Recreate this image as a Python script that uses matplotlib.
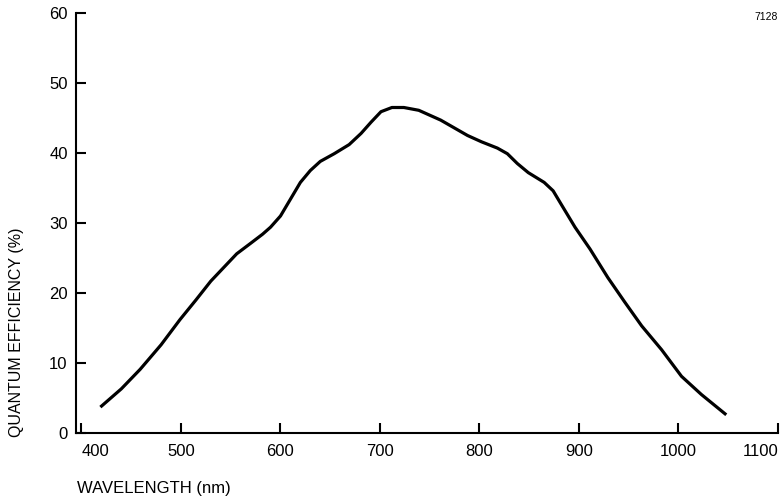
import numpy as np
import matplotlib.pyplot as plt

plt.rcParams['font.family'] = ['Liberation Sans', 'DejaVu Sans']

# values
wavelength = [419, 440, 459, 480, 499, 515, 530, 556, 570, 582, 590, 600, 610,
              620, 630, 640, 654, 669, 681, 691, 701, 712, 724, 739, 761, 788,
              802, 818, 828, 838, 849, 865, 874, 882, 896, 911, 929, 946, 963,
              983, 1003, 1023, 1048]
qe = [3.7, 6.3, 9.1, 12.6, 16.2, 19.0, 21.7, 25.6, 27.1, 28.4, 29.4, 31.0, 33.4,
      35.8, 37.5, 38.8, 39.9, 41.2, 42.8, 44.4, 45.9, 46.5, 46.5, 46.1, 44.7, 42.5,
      41.6, 40.7, 39.9, 38.5, 37.2, 35.8, 34.6, 32.7, 29.4, 26.3, 22.2, 18.7, 15.3,
      11.9, 8.1, 5.5, 2.6]

x_ticks = [400, 500, 600, 700, 800, 900, 1000, 1100]
y_ticks = [0, 10, 20, 30, 40, 50, 60]

fig = plt.figure(figsize=(7.82, 5.03), dpi=100)
ax = fig.add_axes([76 / 782, 70 / 503, 702 / 782, 420 / 503])

ax.plot(wavelength, qe, color='black', lw=2.3, solid_capstyle='butt',
        solid_joinstyle='round')

ax.set_xlim(394.5, 1100)
ax.set_ylim(0, 60)
ax.set_xticks(x_ticks)
ax.set_yticks(y_ticks)
for s in ['top', 'right']:
    ax.spines[s].set_visible(False)
for s in ['left', 'bottom']:
    ax.spines[s].set_linewidth(1.5)
ax.tick_params(direction='in', length=7, width=1.5, labelsize=12)
ax.tick_params(axis='x', pad=8)
ax.tick_params(axis='y', pad=6)

# the end labels sit inside the axis span, as in the reference
xlabels = ax.get_xticklabels()
xlabels[0].set_horizontalalignment('left')
xlabels[-1].set_horizontalalignment('right')

fig.text(17 / 782, 1 - 437 / 503, 'QUANTUM EFFICIENCY (%)', rotation=90,
         ha='center', va='bottom', fontsize=11.5)
fig.text(77 / 782, 1 - 488 / 503, 'WAVELENGTH (nm)', ha='left', va='center',
         fontsize=12)
fig.text(778 / 782, 1 - 17 / 503, '7128', ha='right', va='center', fontsize=7.5)

fig.savefig('out.png', dpi=100)
